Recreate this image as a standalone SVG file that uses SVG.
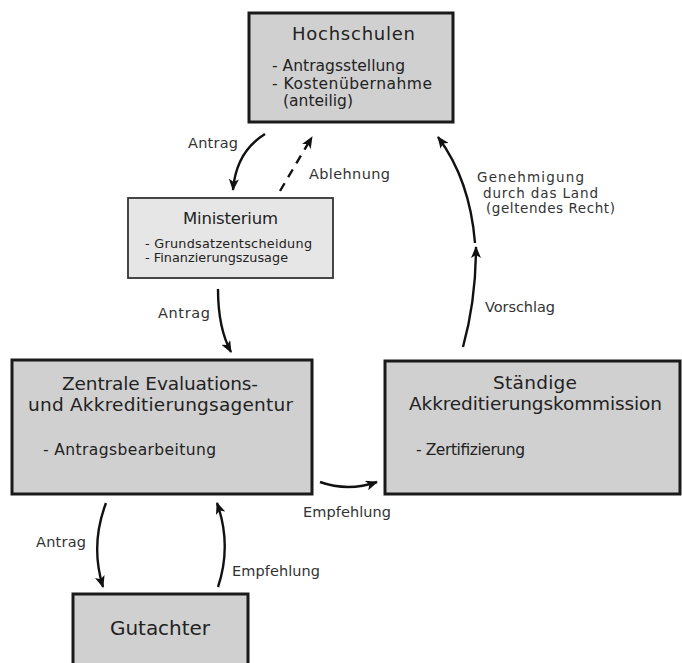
<svg xmlns="http://www.w3.org/2000/svg" width="682" height="663" viewBox="0 0 682 663">
<style>
  .box { fill: #d0d0d0; stroke: #1a1a1a; stroke-width: 3; }
  .box2 { fill: #e6e6e6; stroke: #333; stroke-width: 1.8; }
  text { font-family: "DejaVu Sans", "Liberation Sans", sans-serif; fill: #222; }
  .t18 { font-size: 18px; }
  .t16 { font-size: 16.5px; }
  .t19 { font-size: 18.5px; }
  .t20 { font-size: 20px; }
  .b15 { font-size: 15.5px; }
  .b13 { font-size: 12.8px; }
  .lbl { font-size: 14.5px; fill: #333; }
  .lbs { font-size: 13.5px; fill: #333; }
  .arr { fill: none; stroke: #111; stroke-width: 2.4; marker-end: url(#ah); }
  .dash { stroke-dasharray: 9 7; }
</style>
<defs>
  <marker id="ah" viewBox="0 0 12 10" refX="11" refY="5" markerWidth="12" markerHeight="10" markerUnits="userSpaceOnUse" orient="auto">
    <path d="M0,0 L12,5 L0,10 L3,5 Z" fill="#111"/>
  </marker>
</defs>
<rect width="682" height="663" fill="#fff"/>

<g id="hochschulen">
  <rect class="box" x="249" y="13" width="204" height="109"/>
  <text class="t18" x="292" y="40" textLength="123">Hochschulen</text>
  <text class="b15" x="272" y="71" textLength="133">- Antragsstellung</text>
  <text class="b15" x="272" y="89" textLength="160">- Kostenübernahme</text>
  <text class="b15" x="283" y="106" textLength="70">(anteilig)</text>
</g>

<g id="ministerium">
  <rect class="box2" x="128" y="198" width="205" height="80"/>
  <text class="t16" x="183" y="224" textLength="95">Ministerium</text>
  <text class="b13" x="145" y="248" textLength="167">- Grundsatzentscheidung</text>
  <text class="b13" x="145" y="262" textLength="143">- Finanzierungszusage</text>
</g>

<g id="zentrale">
  <rect class="box" x="12" y="360" width="300" height="134"/>
  <text class="t19" x="62" y="390" textLength="196">Zentrale Evaluations-</text>
  <text class="t19" x="28" y="411" textLength="265">und Akkreditierungsagentur</text>
  <text class="b15" x="43" y="455" textLength="173">- Antragsbearbeitung</text>
</g>

<g id="staendige">
  <rect class="box" x="385" y="361" width="295" height="133"/>
  <text class="t19" x="493" y="389" textLength="84">Ständige</text>
  <text class="t19" x="409" y="410" textLength="253">Akkreditierungskommission</text>
  <text class="b15" x="416" y="455" textLength="109">- Zertifizierung</text>
</g>

<g id="gutachter">
  <rect class="box" x="73" y="594" width="175" height="90"/>
  <text class="t20" x="110" y="635" textLength="100">Gutachter</text>
</g>

<g id="connectors">
  <path class="arr" d="M265,134 Q236,152 233,190"/>
  <path class="arr dash" d="M280,191 L312,137"/>
  <path class="arr" d="M218,289 Q218,328 231,352"/>
  <path class="arr" d="M320,482 Q348,492 377,482"/>
  <path class="arr" d="M463,347 Q476,300 476,247"/>
  <path class="arr" d="M475,243 Q470,180 438,137"/>
  <path class="arr" d="M106,503 Q90,545 103,587"/>
  <path class="arr" d="M218,587 Q232,545 217,503"/>
</g>

<g id="labels">
  <text class="lbl" x="188" y="148" textLength="50">Antrag</text>
  <text class="lbl" x="309" y="179" textLength="81">Ablehnung</text>
  <text class="lbl" x="158" y="318" textLength="52">Antrag</text>
  <text class="lbl" x="303" y="517" textLength="88">Empfehlung</text>
  <text class="lbs" x="477" y="182" textLength="107">Genehmigung</text>
  <text class="lbs" x="483" y="198" textLength="115">durch das Land</text>
  <text class="lbs" x="486" y="213" textLength="129">(geltendes Recht)</text>
  <text class="lbl" x="485" y="312" textLength="70">Vorschlag</text>
  <text class="lbl" x="36" y="547" textLength="50">Antrag</text>
  <text class="lbl" x="232" y="576" textLength="88">Empfehlung</text>
</g>
</svg>
